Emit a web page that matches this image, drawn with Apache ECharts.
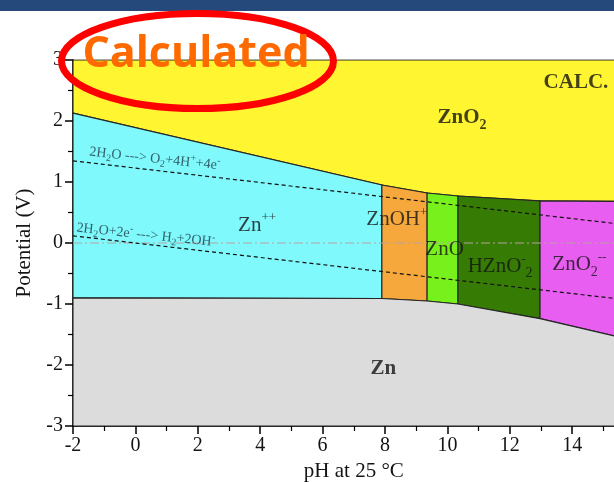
<!DOCTYPE html>
<html><head><meta charset="utf-8">
<script src="https://cdn.jsdelivr.net/npm/echarts@6/dist/echarts.min.js"></script>
<style>html,body{margin:0;padding:0;background:#fff}#c{width:614px;height:482px}</style>
</head><body><div id="c"></div>
<script>
// ---- data ----
const phBounds = [-2, 7.9, 9.35, 10.34, 12.97, 16];
const upperE = [2.13, 0.95, 0.82, 0.77, 0.69, 0.68];
const lowerE = [-0.90, -0.91, -0.95, -1.00, -1.24, -1.60];
const midSpecies = ['Zn++', 'ZnOH+', 'ZnO', 'HZnO2-', 'ZnO2--'];
const o2Line = [[-2, 1.347], [16, 0.282]];
const h2Line = [[-2, 0.118], [16, -0.947]];
const zeroLine = [[-2, 0], [16, 0]];
const xTicks = [-2, 0, 2, 4, 6, 8, 10, 12, 14];
const yTicks = [-3, -2, -1, 0, 1, 2, 3];
const labelPos = {
  'ZnO2': [10.47, 2.05], 'CALC.': [14.12, 2.63], 'Zn++': [3.90, 0.29],
  'ZnOH+': [8.38, 0.38], 'ZnO': [9.91, -0.10], 'HZnO2-': [11.69, -0.39],
  'ZnO2--': [14.23, -0.36], 'Zn': [7.95, -2.06],
  'o2': [0.62, 1.38], 'h2': [0.33, 0.13]
};

// ---- regions built from boundaries ----
const upperPts = phBounds.map((p, i) => [p, upperE[i]]);
const lowerPts = phBounds.map((p, i) => [p, lowerE[i]]);
const midColors = ['#7ff9fb', '#f6a83c', '#78f01c', '#367b03', '#e85ef0'];
const regions = [];
regions.push({ color: '#fff530', pts: [[-2, 3], [16, 3]].concat(upperPts.slice().reverse()) });
for (let i = 0; i < midSpecies.length; i++) {
  regions.push({ color: midColors[i], pts: [upperPts[i], upperPts[i + 1], lowerPts[i + 1], lowerPts[i]] });
}
regions.push({ color: '#dcdcdc', pts: lowerPts.concat([[16, -3], [-2, -3]]) });

const SERIF = '"Liberation Serif", "Times New Roman", serif';
const TXT = '#141414';
const WC = '#1d3946';
const rich = {
  m: { fontFamily: SERIF, fontSize: 21, color: TXT, lineHeight: 28 },
  b: { fontFamily: SERIF, fontSize: 21, fontWeight: 'bold', color: TXT, lineHeight: 28 },
  s: { fontFamily: SERIF, fontSize: 14, color: TXT, verticalAlign: 'bottom', lineHeight: 14 },
  bs: { fontFamily: SERIF, fontSize: 14, fontWeight: 'bold', color: TXT, verticalAlign: 'bottom', lineHeight: 14 },
  p: { fontFamily: SERIF, fontSize: 13, color: TXT, verticalAlign: 'top', lineHeight: 13 },
  w: { fontFamily: SERIF, fontSize: 14, color: WC, lineHeight: 19 },
  ws: { fontFamily: SERIF, fontSize: 10, color: WC, verticalAlign: 'bottom', lineHeight: 10 },
  wp: { fontFamily: SERIF, fontSize: 10, color: WC, verticalAlign: 'top', lineHeight: 10 }
};
const labelText = {
  'ZnO2': '{b|ZnO}{bs|2}', 'CALC.': '{b|CALC.}', 'Zn++': '{m|Zn}{p|++}',
  'ZnOH+': '{m|ZnOH}{p|+}', 'ZnO': '{m|ZnO}', 'HZnO2-': '{m|HZnO}{p|-}{s|2}',
  'ZnO2--': '{m|ZnO}{s|2}{p|--}', 'Zn': '{b|Zn}',
  'o2': '{w|2H}{ws|2}{w|O ---> O}{ws|2}{w|+4H}{wp|+}{w|+4e}{wp|-}',
  'h2': '{w|2H}{ws|2}{w|O+2e}{wp|-}{w| ---> H}{ws|2}{w|+2OH}{wp|-}'
};
const labelData = Object.keys(labelPos).map(k => ({
  value: labelPos[k],
  label: { formatter: labelText[k], rotate: (k === 'o2' || k === 'h2') ? -6 : 0 }
}));

const chart = echarts.init(document.getElementById('c'), null, { renderer: 'canvas' });
chart.setOption({
  animation: false,
  backgroundColor: '#fff',
  grid: { left: 73, top: 60, width: 561.6, height: 366, show: true, borderColor: '#555', borderWidth: 1,
    backgroundColor: 'transparent', containLabel: false, outerBoundsMode: 'none' },
  xAxis: {
    type: 'value', min: -2, max: 16, interval: 2,
    name: 'pH at 25 °C', nameLocation: 'middle', nameGap: 32,
    nameTextStyle: { fontFamily: SERIF, fontSize: 21, color: TXT },
    axisLine: { onZero: false, lineStyle: { color: '#000', width: 1.5 } },
    axisTick: { length: 8, lineStyle: { color: '#000', width: 1.5 } },
    minorTick: { show: true, splitNumber: 2, length: 5, lineStyle: { color: '#000', width: 1.2 } },
    splitLine: { show: false },
    axisLabel: { fontFamily: SERIF, fontSize: 20, color: TXT, margin: 10, showMaxLabel: false,
      formatter: v => xTicks.indexOf(v) >= 0 ? String(v) : '' }
  },
  yAxis: {
    type: 'value', min: -3, max: 3, interval: 1,
    name: 'Potential (V)', nameLocation: 'middle', nameGap: 38,
    nameTextStyle: { fontFamily: SERIF, fontSize: 21, color: TXT },
    axisLine: { onZero: false, lineStyle: { color: '#000', width: 1.5 } },
    axisTick: { length: 8, lineStyle: { color: '#000', width: 1.5 } },
    minorTick: { show: true, splitNumber: 2, length: 5, lineStyle: { color: '#000', width: 1.2 } },
    splitLine: { show: false },
    axisLabel: { fontFamily: SERIF, fontSize: 20, color: TXT, margin: 10,
      formatter: v => yTicks.indexOf(v) >= 0 ? String(v) : '' }
  },
  series: [
    {
      type: 'custom', z: 1, clip: true,
      data: regions.map((r, i) => [i, 0]),
      renderItem: (params, api) => {
        const r = regions[params.dataIndex];
        return { type: 'polygon', shape: { points: r.pts.map(p => api.coord(p)) },
          style: { fill: r.color, stroke: '#262626', lineWidth: 1.1 } };
      }
    },
    { type: 'line', z: 3, data: zeroLine, symbol: 'none', silent: true,
      lineStyle: { color: '#b8a2a2', width: 1, type: [9, 3, 2, 3] } },
    { type: 'line', z: 4, data: o2Line, symbol: 'none', silent: true,
      lineStyle: { color: '#111', width: 1.2, type: [4, 3] } },
    { type: 'line', z: 4, data: h2Line, symbol: 'none', silent: true,
      lineStyle: { color: '#111', width: 1.2, type: [4, 3] } },
    { type: 'scatter', z: 5, symbolSize: 0, silent: true, data: labelData,
      label: { show: true, position: 'inside', rich: rich } }
  ],
  graphic: [
    { type: 'rect', left: 0, top: 0, z: 100, shape: { width: 614, height: 11 }, style: { fill: '#26497c' } },
    { type: 'ellipse', z: 101, shape: { cx: 197.5, cy: 61, rx: 136, ry: 47.5 }, style: { fill: null, stroke: '#ff0000', lineWidth: 7 } },
    { type: 'text', z: 102, x: 196, y: 55, style: { text: 'Calculated', font: 'bold 43px "Open Sans"', fill: '#ff6a00', textAlign: 'center', textVerticalAlign: 'middle' } }
  ]
});
</script></body></html>
